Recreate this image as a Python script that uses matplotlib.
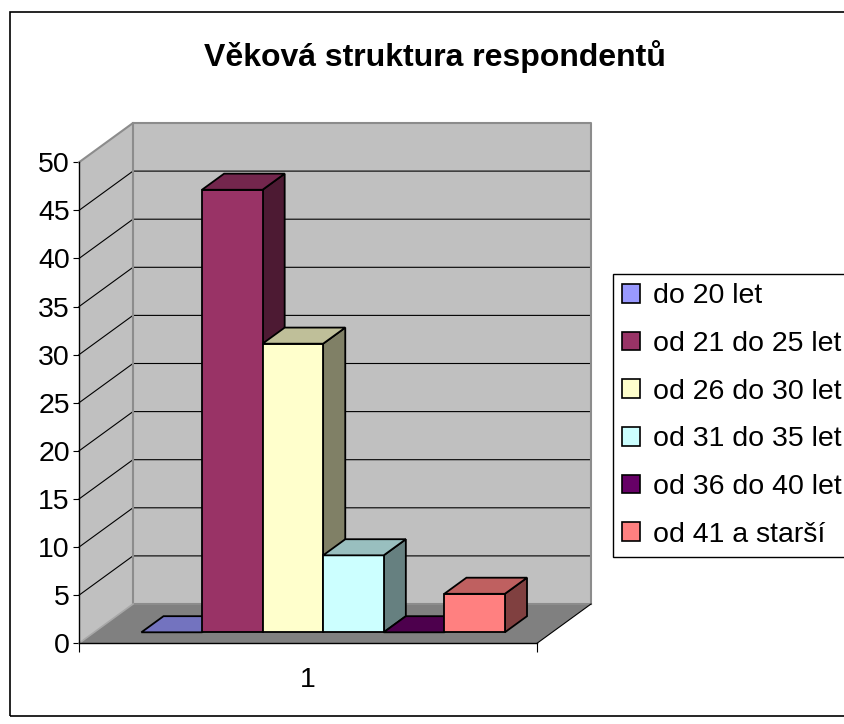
import numpy as np
import matplotlib
matplotlib.use('Agg')
import matplotlib.pyplot as plt
from matplotlib.patches import Polygon, Rectangle, Patch
from matplotlib.transforms import IdentityTransform

plt.rcParams['font.family'] = ['Liberation Sans', 'DejaVu Sans']

# data
categories = ['do 20 let', 'od 21 do 25 let', 'od 26 do 30 let',
              'od 31 do 35 let', 'od 36 do 40 let', 'od 41 a starší']
values = [0, 46, 30, 8, 0, 4]
colors = ['#9999FF', '#993366', '#FFFFCC', '#CCFFFF', '#660066', '#FF8080']
yticks = list(range(0, 55, 5))
group_label = '1'
title = 'Věková struktura respondentů'

W, H = 845, 724
fig = plt.figure(figsize=(W / 100, H / 100), dpi=100)
fig.patch.set_facecolor('white')

# front plane of the 3d box
ax = fig.add_axes([79 / W, 80.7 / H, 458 / W, 481 / H])
ax.set_xlim(-0.78, 6.78)
ax.set_ylim(0, 50)
ax.patch.set_visible(False)
for s in ['top', 'right']:
    ax.spines[s].set_visible(False)
for s in ['left', 'bottom']:
    ax.spines[s].set_color('black')
    ax.spines[s].set_linewidth(1.0)
    ax.spines[s].set_zorder(6)

# depth of the box in pixels (x right, y up)
DX, DY = 54.0, 39.3
F_FRONT, F_BACK = 0.28, 0.69

I = IdentityTransform()


def proj(x, y, f):
    px, py = ax.transData.transform((x, y))
    return (px + f * DX, py + f * DY)


def shade(c, k):
    r, g, b = matplotlib.colors.to_rgb(c)
    return (r * k, g * k, b * k)


x0, x1 = ax.get_xlim()
y0, y1 = ax.get_ylim()

# walls and floor
left_wall = [proj(x0, y0, 0), proj(x0, y1, 0), proj(x0, y1, 1), proj(x0, y0, 1)]
back_wall = [proj(x0, y0, 1), proj(x0, y1, 1), proj(x1, y1, 1), proj(x1, y0, 1)]
floor = [proj(x0, y0, 0), proj(x1, y0, 0), proj(x1, y0, 1), proj(x0, y0, 1)]
ax.add_patch(Polygon(left_wall, closed=True, facecolor='#C0C0C0', edgecolor='none',
                     transform=I, clip_on=False, zorder=1))
ax.add_patch(Polygon(back_wall, closed=True, facecolor='#C0C0C0', edgecolor='none',
                     transform=I, clip_on=False, zorder=1))
ax.add_patch(Polygon(floor, closed=True, facecolor='#808080', edgecolor='none',
                     transform=I, clip_on=False, zorder=1))

# grid lines
for v in yticks[1:-1]:
    a, b, c = proj(x0, v, 0), proj(x0, v, 1), proj(x1, v, 1)
    ax.plot([a[0], b[0], c[0]], [a[1], b[1], c[1]], color='black', lw=0.8,
            transform=I, clip_on=False, zorder=2)

# wall edges
edge = [proj(x0, y1, 0), proj(x0, y1, 1), proj(x1, y1, 1), proj(x1, y0, 1)]
ax.plot([p[0] for p in edge], [p[1] for p in edge], color='#8C8C8C', lw=1.5,
        transform=I, clip_on=False, zorder=2)
edge = [proj(x0, y1, 1), proj(x0, y0, 1), proj(x1, y0, 1)]
ax.plot([p[0] for p in edge], [p[1] for p in edge], color='#8C8C8C', lw=1.5,
        transform=I, clip_on=False, zorder=2)
edge = [proj(x0, y0, 0), proj(x0, y0, 1)]
ax.plot([p[0] for p in edge], [p[1] for p in edge], color='#A8A8A8', lw=1.2,
        transform=I, clip_on=False, zorder=2)
edge = [proj(x1, y0, 0), proj(x1, y0, 1)]
ax.plot([p[0] for p in edge], [p[1] for p in edge], color='black', lw=0.8,
        transform=I, clip_on=False, zorder=2)

# bars
for i, (v, c) in enumerate(zip(values, colors)):
    l, r = i, i + 1
    z = 3 + i * 0.1
    front = [proj(l, 0, F_FRONT), proj(r, 0, F_FRONT), proj(r, v, F_FRONT), proj(l, v, F_FRONT)]
    top = [proj(l, v, F_FRONT), proj(r, v, F_FRONT), proj(r, v, F_BACK), proj(l, v, F_BACK)]
    side = [proj(r, 0, F_FRONT), proj(r, 0, F_BACK), proj(r, v, F_BACK), proj(r, v, F_FRONT)]
    if v > 0:
        ax.add_patch(Polygon(side, closed=True, facecolor=shade(c, 0.5), edgecolor='black',
                             lw=1.3, transform=I, clip_on=False, zorder=z))
        ax.add_patch(Polygon(front, closed=True, facecolor=c, edgecolor='black',
                             lw=1.3, transform=I, clip_on=False, zorder=z))
    ax.add_patch(Polygon(top, closed=True, facecolor=shade(c, 0.75), edgecolor='black',
                         lw=1.3, transform=I, clip_on=False, zorder=z))

# ticks
ax.set_yticks(yticks)
ax.set_yticklabels([str(t) for t in yticks])
ax.tick_params(axis='y', direction='out', length=4.5, width=0.8, pad=2,
               labelsize=20.5, colors='black')
ax.set_xticks([3])
ax.set_xticklabels([group_label])
ax.set_xticks([x0, x1], minor=True)
ax.tick_params(axis='x', which='major', length=0, pad=17, labelsize=20.5)
ax.tick_params(axis='x', which='minor', direction='out', length=6.5, width=0.8)

# title
fig.text(435 / W, 1 - 57 / H, title, ha='center', va='center',
         fontsize=23, fontweight='bold')

# legend
handles = [Patch(facecolor=c, edgecolor='black', lw=1.2) for c in colors]
leg = fig.legend(handles, categories, loc='upper left',
                 bbox_to_anchor=(613 / W, 1 - 274 / H), frameon=True,
                 fancybox=False, edgecolor='black', framealpha=1,
                 fontsize=20.5, handlelength=0.63, handleheight=0.63,
                 handletextpad=0.44, borderpad=0.33, labelspacing=0.76,
                 borderaxespad=0)
leg.get_frame().set_linewidth(1.0)

# outer border
fig.add_artist(Rectangle((9.5, 8), 900, 704, fill=False, edgecolor='black',
                         lw=1.2, transform=I))

fig.savefig('out.png', dpi=100)
